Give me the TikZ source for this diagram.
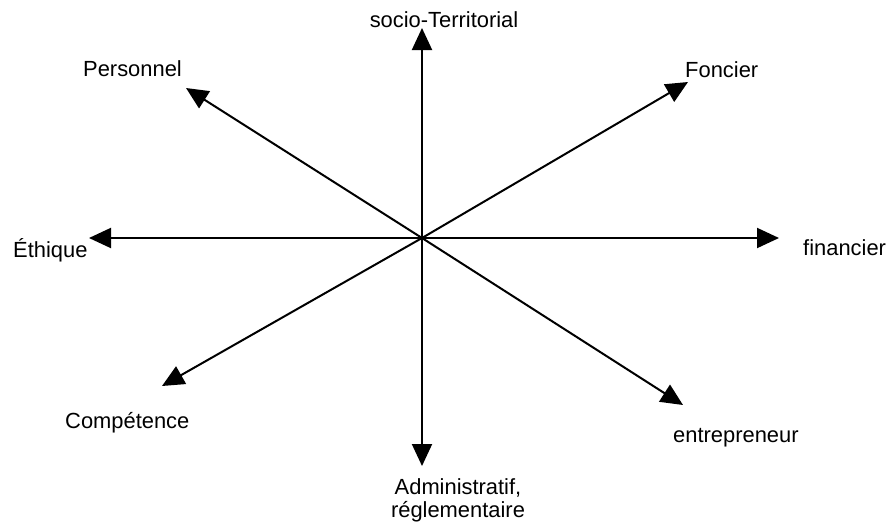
\documentclass[tikz,border=0pt]{standalone}
\usepackage{fontspec}
\setmainfont{Liberation Sans}
\usetikzlibrary{arrows.meta}

\tikzset{
  axe/.style={line width=2pt, -{Triangle[length=22pt,width=20pt]}},
  lab/.style={inner sep=0pt, font=\fontsize{21.9}{23}\selectfont}
}

\begin{document}
\begin{tikzpicture}[x=1pt,y=1pt,yscale=-1,xscale=1]
\useasboundingbox (0,0) rectangle (889,525);

% --- 1. centre et extremites des axes ---
\coordinate (o) at (422,238);
\coordinate (tN) at (422,28);
\coordinate (tS) at (422,466);
\coordinate (tE) at (779,238);
\coordinate (tW) at (89,238);
\coordinate (tNE) at (688,82);
\coordinate (tNW) at (186,88);
\coordinate (tSW) at (162,386);
\coordinate (tSE) at (683,405);

% --- 2. les huit fleches ---
\draw [axe] (o) -- (tN);
\draw [axe] (o) -- (tS);
\draw [axe] (o) -- (tE);
\draw [axe] (o) -- (tW);
\draw [axe] (o) -- (tNE);
\draw [axe] (o) -- (tNW);
\draw [axe] (o) -- (tSW);
\draw [axe] (o) -- (tSE);

% --- 3. etiquettes ---
\node [lab, anchor=base] (nN) at (444,27) {socio-Territorial};
\node [lab, anchor=base west] (nNW) at (83,76) {Personnel};
\node [lab, anchor=base west] (nNE) at (685,77) {Foncier};
\node [lab, anchor=base west] (nW) at (13,257) {Éthique};
\node [lab, anchor=base west] (nE) at (803,255) {financier};
\node [lab, anchor=base west] (nSW) at (65,428) {Compétence};
\node [lab, anchor=base west] (nSE) at (673,442) {entrepreneur};
% ancre base = ligne de base de la derniere ligne
\node [lab, anchor=base, align=center] (nS) at (458,517) {Administratif,\\réglementaire};

\end{tikzpicture}
\end{document}
